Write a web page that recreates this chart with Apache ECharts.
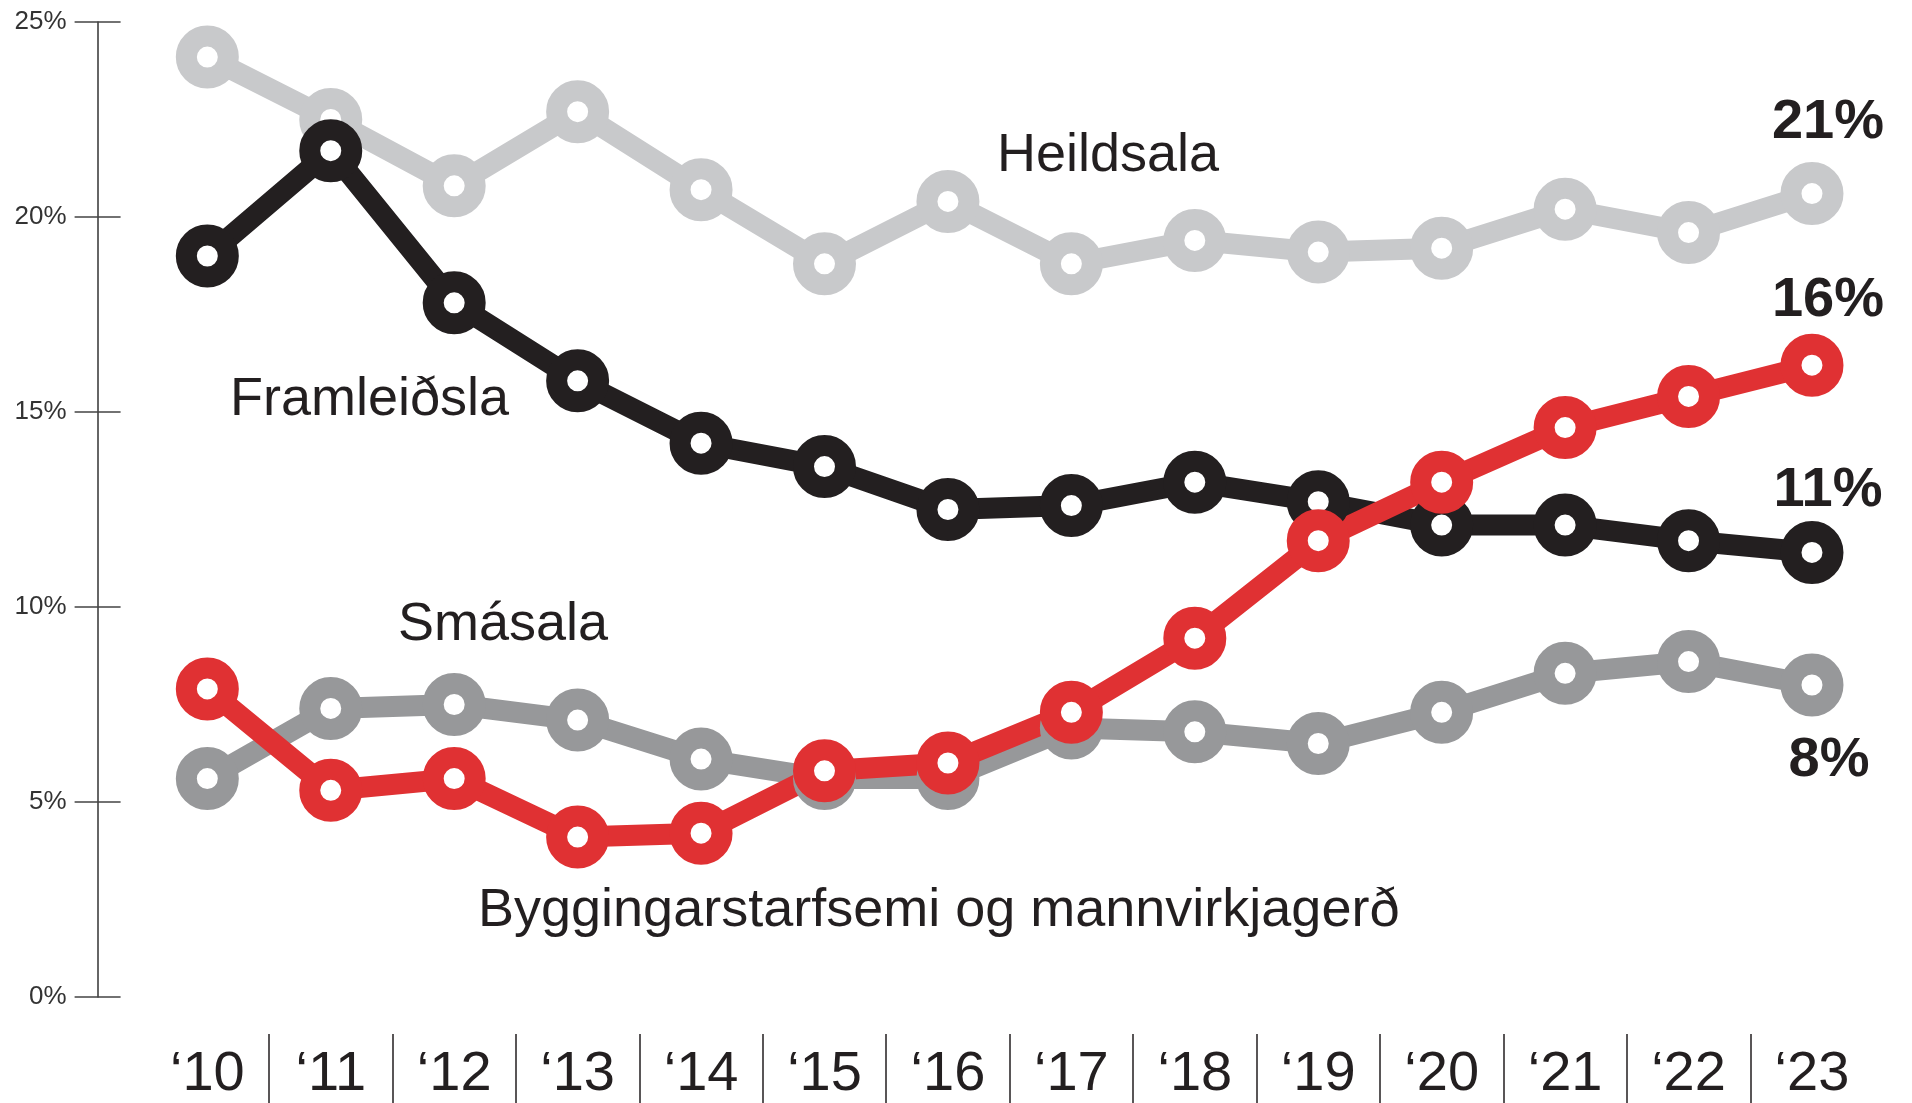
<!DOCTYPE html>
<html>
<head>
<meta charset="utf-8">
<script src="https://cdn.jsdelivr.net/npm/echarts@6/dist/echarts.min.js"></script>
<style>
  html, body { margin: 0; padding: 0; background: #fff; }
  #chart { width: 1912px; height: 1103px; }
</style>
</head>
<body>
<div id="chart"></div>
<script>
// years on the x axis
const years = ['‘10', '‘11', '‘12', '‘13', '‘14', '‘15', '‘16', '‘17', '‘18', '‘19', '‘20', '‘21', '‘22', '‘23'];
const yTicks = [0, 5, 10, 15, 20, 25];

// shares in %
const heildsala = [24.1, 22.5, 20.8, 22.7, 20.7, 18.8, 20.4, 18.8, 19.4, 19.1, 19.2, 20.2, 19.6, 20.6];
const framleidsla = [19.0, 21.7, 17.8, 15.8, 14.2, 13.6, 12.5, 12.6, 13.2, 12.7, 12.1, 12.1, 11.7, 11.4];
const byggingar = [7.9, 5.3, 5.6, 4.1, 4.2, 5.8, 6.0, 7.3, 9.2, 11.7, 13.2, 14.6, 15.4, 16.2];
const smasala = [5.6, 7.4, 7.5, 7.1, 6.1, 5.6, 5.6, 6.9, 6.8, 6.5, 7.3, 8.3, 8.6, 8.0];

const FONT = '"Liberation Sans", Arial, sans-serif';
const INK = '#231f20';

const chart = echarts.init(document.getElementById('chart'));

function lineSeries(name, data, color, labelOffset) {
  const last = data.length - 1;
  return {
    name: name,
    type: 'line',
    data: data,
    color: color,
    lineStyle: { color: color, width: 21 },
    symbol: 'circle',
    symbolSize: 42,
    showAllSymbol: true,
    itemStyle: { color: '#fff', borderColor: color, borderWidth: 21 },
    label: {
      show: true,
      position: 'inside',
      offset: labelOffset,
      fontFamily: FONT,
      fontWeight: 'bold',
      fontSize: 56,
      color: INK,
      formatter: p => (p.dataIndex === last ? Math.round(p.value) + '%' : '')
    },
    emphasis: { disabled: true },
    z: 2
  };
}

function nameText(text, x, y) {
  return {
    type: 'text',
    x: x,
    y: y,
    style: {
      text: text,
      font: '54px ' + FONT,
      fill: INK,
      textAlign: 'left',
      textVerticalAlign: 'middle'
    }
  };
}

const option = {
  animation: false,
  backgroundColor: '#fff',
  grid: { left: 145.6, right: 38.3, top: 22, bottom: 106 },
  xAxis: [
    {
      type: 'category',
      data: years,
      boundaryGap: true,
      axisLine: { show: false, onZero: false },
      axisTick: { show: false },
      axisLabel: { margin: 50, fontFamily: FONT, fontSize: 56, color: INK }
    },
    {
      // separators between the year labels
      type: 'category',
      data: years.concat(['']).map(() => ''),
      boundaryGap: false,
      position: 'bottom',
      offset: 37,
      axisLine: { show: false, onZero: false },
      axisLabel: { show: false },
      axisTick: {
        show: true,
        length: 72,
        interval: (i) => i > 0 && i < years.length,
        lineStyle: { color: INK, width: 1.5 }
      }
    }
  ],
  yAxis: [
    {
      type: 'value',
      min: yTicks[0],
      max: yTicks[yTicks.length - 1],
      interval: 5,
      offset: 48,
      splitLine: { show: false },
      axisLine: { show: true, lineStyle: { color: '#333', width: 1.5 } },
      axisTick: { show: true, length: 23, lineStyle: { color: '#444', width: 1.5 } },
      axisLabel: {
        margin: 31,
        fontFamily: FONT,
        fontSize: 26,
        color: '#333',
        formatter: v => v + '%'
      }
    },
    {
      type: 'value',
      min: yTicks[0],
      max: yTicks[yTicks.length - 1],
      interval: 5,
      position: 'left',
      offset: 48,
      splitLine: { show: false },
      axisLine: { show: false },
      axisTick: { show: true, inside: true, length: 23, lineStyle: { color: '#444', width: 1.5 } },
      axisLabel: { show: false }
    }
  ],
  series: [
    lineSeries('Smásala', smasala, '#97989a', [17, 76]),
    lineSeries('Heildsala', heildsala, '#c8c9cb', [16, -71]),
    lineSeries('Framleiðsla', framleidsla, INK, [16, -62]),
    lineSeries('Byggingarstarfsemi og mannvirkjagerð', byggingar, '#e03133', [16, -65])
  ],
  graphic: [
    nameText('Heildsala', 997, 156),
    nameText('Framleiðsla', 230, 400),
    nameText('Smásala', 398, 625),
    nameText('Byggingarstarfsemi og mannvirkjagerð', 478, 911)
  ]
};

option && chart.setOption(option);
window.addEventListener('resize', function () {
  chart.resize();
});
</script>
</body>
</html>
